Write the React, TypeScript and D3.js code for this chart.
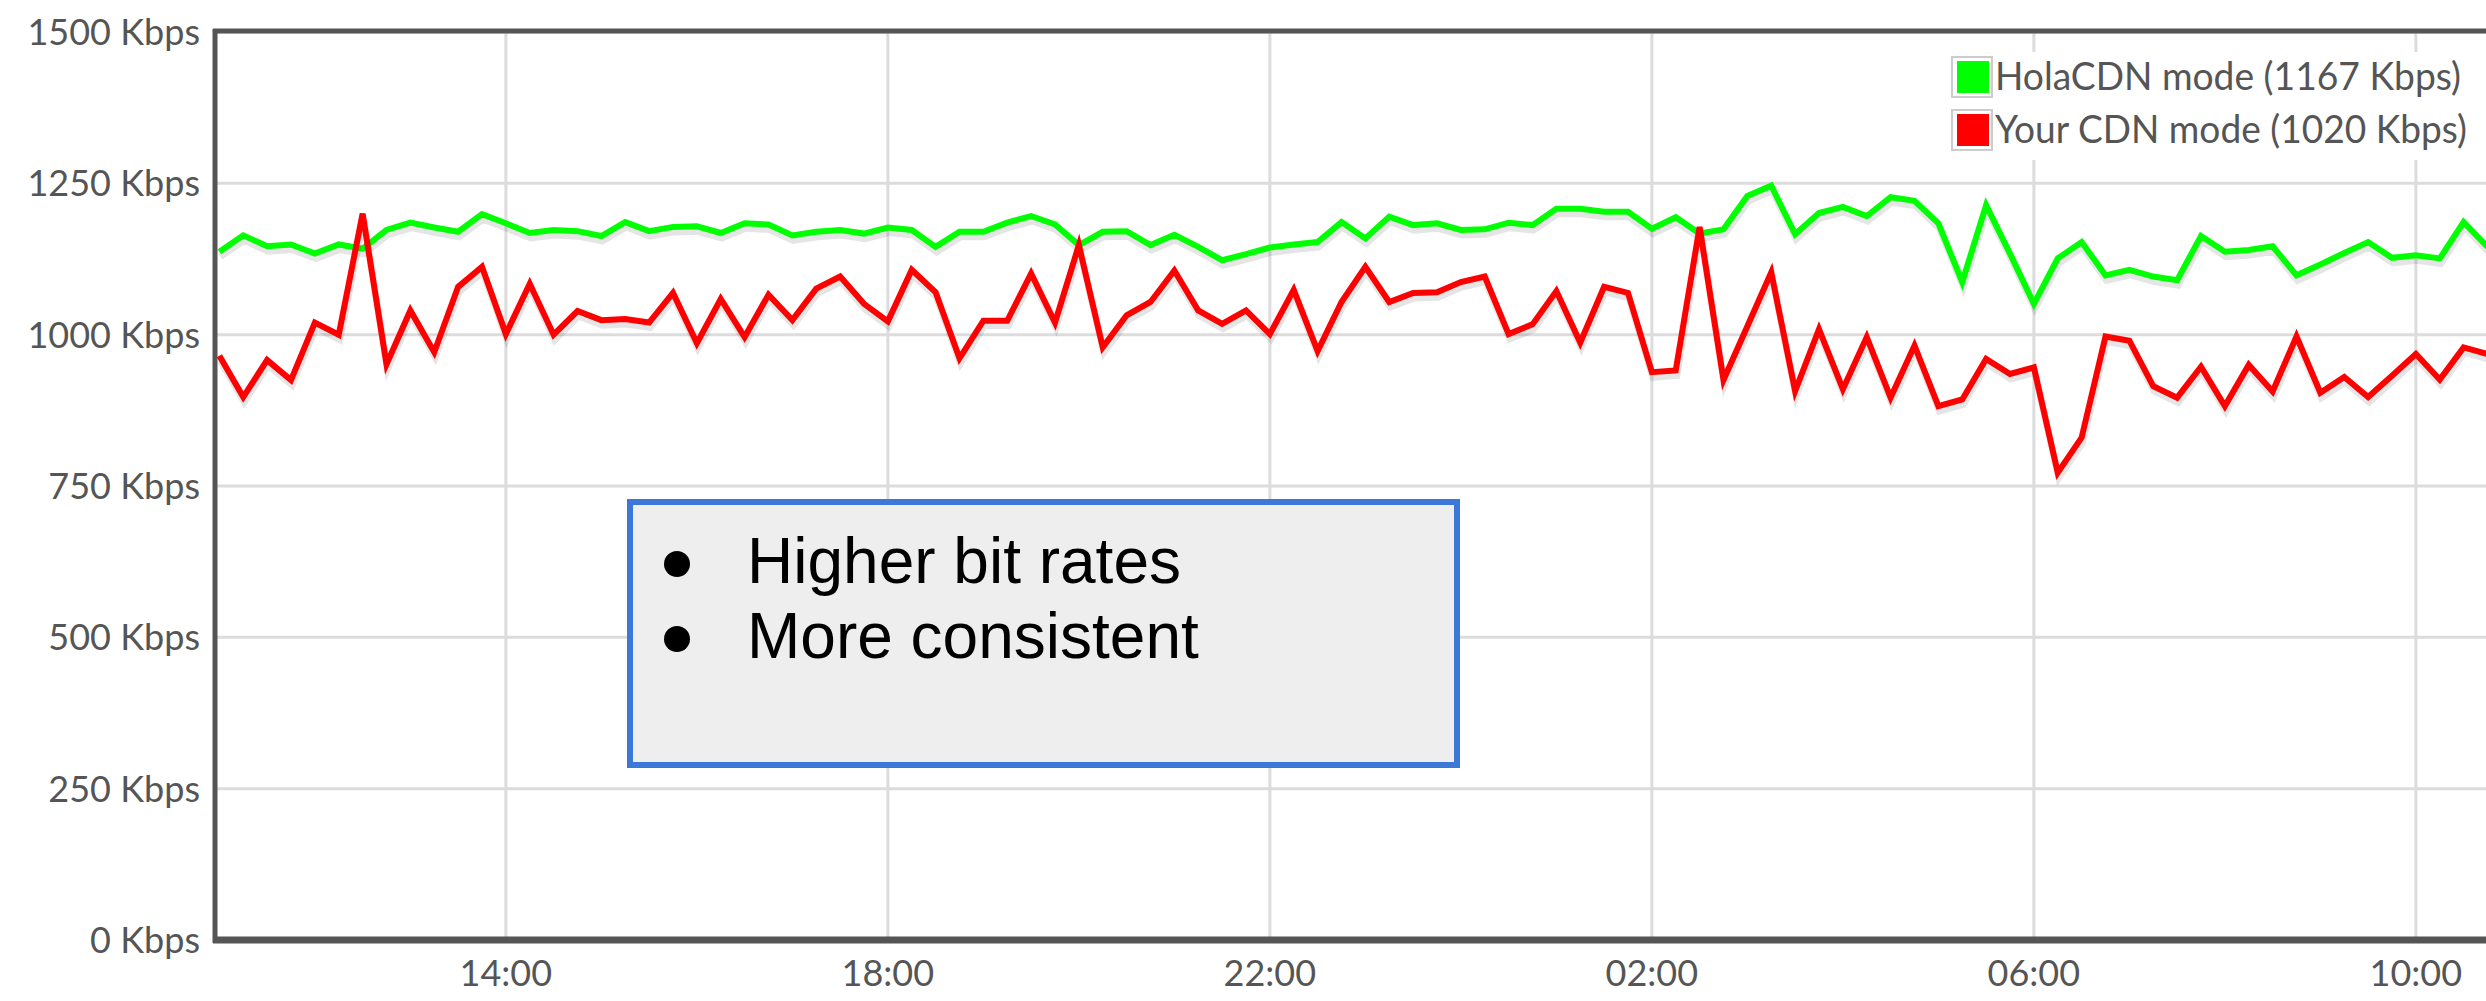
import * as d3 from "d3";

// samples every 15 minutes, starting 11:00
const START = new Date(2024, 0, 1, 11, 0);
const STEP_MIN = 15;

const holaCdn = [
  1137, 1164, 1146, 1149, 1134, 1149, 1142, 1173, 1185, 1177,
  1170, 1199, 1184, 1168, 1173, 1171, 1163, 1186, 1171, 1178,
  1179, 1168, 1184, 1182, 1164, 1170, 1173, 1167, 1177, 1173,
  1145, 1170, 1170, 1185, 1196, 1182, 1148, 1170, 1171, 1148,
  1165, 1145, 1123, 1133, 1144, 1149, 1153, 1186, 1159, 1195,
  1181, 1184, 1173, 1174, 1185, 1181, 1208, 1208, 1203, 1203,
  1175, 1194, 1167, 1174, 1229, 1246, 1166, 1201, 1211, 1196,
  1227, 1221, 1184, 1087, 1214, 1134, 1051, 1126, 1153, 1098,
  1107, 1096, 1090, 1163, 1137, 1140, 1146, 1098, 1116, 1135,
  1153, 1127, 1131, 1126, 1186, 1145,
];

const yourCdn = [
  965, 897, 958, 925, 1020, 1000, 1200, 951, 1040, 971,
  1079, 1112, 1001, 1084, 1000, 1039, 1024, 1026, 1020, 1069,
  986, 1059, 996, 1066, 1024, 1076, 1096, 1051, 1022, 1107,
  1070, 961, 1023, 1023, 1101, 1020, 1148, 979, 1032, 1054,
  1106, 1040, 1018, 1040, 1001, 1074, 973, 1054, 1112, 1054,
  1069, 1070, 1087, 1096, 1001, 1017, 1072, 987, 1079, 1069,
  938, 941, 1178, 925, 1014, 1103, 907, 1009, 910, 996,
  896, 982, 882, 893, 960, 935, 946, 772, 830, 997,
  990, 915, 896, 947, 882, 950, 906, 997, 904, 930,
  897, 932, 968, 926, 979, 968,
];

const yTicks = [0, 250, 500, 750, 1000, 1250, 1500];

const seriesNames = ["HolaCDN mode (1167 Kbps)", "Your CDN mode (1020 Kbps)"];
const seriesColors = ["#00ff00", "#ff0000"];
const legendWidths = [466, 472];

const calloutLines = ["Higher bit rates", "More consistent"];

const W = 2486;
const H = 1001;
const margin = { left: 213, top: 32, bottom: 940, right: 2505 };

export default function App() {
  const x = d3
    .scaleTime()
    .domain([new Date(2024, 0, 1, 10, 56), new Date(2024, 0, 2, 10, 56)])
    .range([margin.left, margin.right]);

  const y = d3.scaleLinear().domain([0, 1500]).range([margin.bottom, margin.top]);

  const times = holaCdn.map((_, i) => d3.timeMinute.offset(START, i * STEP_MIN));

  const xTicks = d3
    .timeHour.range(x.domain()[0], x.domain()[1])
    .filter(d => d.getHours() % 4 === 2);
  const fmt = d3.timeFormat("%H:%M");

  const line = d3
    .line<number>()
    .x((_, i) => x(times[i]))
    .y(d => y(d));

  const series = [holaCdn, yourCdn];

  const labelFont = "Lato, 'Open Sans', sans-serif";

  return (
    <svg
      width={W}
      height={H}
      style={{ position: "absolute", left: 0, top: 0, display: "block", background: "#fff" }}
    >
      {/* gridlines */}
      <g stroke="#dcdcdc" strokeWidth={3}>
        {yTicks.map(t => (
          <line key={"gy" + t} x1={margin.left} x2={margin.right} y1={y(t)} y2={y(t)} />
        ))}
        {xTicks.map(t => (
          <line key={"gx" + t.getTime()} x1={x(t)} x2={x(t)} y1={margin.top} y2={margin.bottom} />
        ))}
      </g>

      {/* series */}
      {series.map((s, i) => (
        <g key={"s" + i}>
          <path
            d={line(s) ?? ""}
            fill="none"
            stroke="rgba(0,0,0,0.10)"
            strokeWidth={7}
            transform="translate(1,5)"
          />
          <path d={line(s) ?? ""} fill="none" stroke={seriesColors[i]} strokeWidth={6} />
        </g>
      ))}

      {/* frame */}
      <line x1={margin.left} x2={margin.right} y1={margin.top - 1} y2={margin.top - 1} stroke="#555" strokeWidth={5} />
      <line x1={margin.left + 2} x2={margin.left + 2} y1={margin.top - 3} y2={margin.bottom + 3} stroke="#555" strokeWidth={5} />
      <line x1={margin.left} x2={margin.right} y1={margin.bottom} y2={margin.bottom} stroke="#555" strokeWidth={7} />

      {/* y labels */}
      <g fontFamily={labelFont} fontSize={36} fill="#555" textAnchor="end">
        {yTicks.map(t => (
          <text key={"ly" + t} x={200} y={y(t) + 13}>
            {t} Kbps
          </text>
        ))}
      </g>

      {/* x labels */}
      <g fontFamily={labelFont} fontSize={36} fill="#555" textAnchor="middle">
        {xTicks.map(t => (
          <text key={"lx" + t.getTime()} x={x(t)} y={986}>
            {fmt(t)}
          </text>
        ))}
      </g>

      {/* legend */}
      <rect x={1945} y={52} width={535} height={108} fill="#fff" />
      {seriesNames.map((name, i) => (
        <g key={"lg" + i} transform={`translate(0,${i * 53})`}>
          <rect x={1952} y={57} width={40} height={40} fill="#fff" stroke="#ccc" strokeWidth={2} />
          <rect x={1957} y={61} width={32} height={32} fill={seriesColors[i]} />
          <text
            x={1995}
            y={90}
            fontFamily={labelFont}
            fontSize={38}
            fill="#555"
            textLength={legendWidths[i]}
            lengthAdjust="spacingAndGlyphs"
          >
            {name}
          </text>
        </g>
      ))}

      {/* callout */}
      <rect x={630} y={502} width={827} height={263} fill="#eeeeee" stroke="#3c78d8" strokeWidth={6} />
      {calloutLines.map((t, i) => (
        <g key={"c" + i}>
          <circle cx={677} cy={564 + i * 75} r={13} fill="#000" />
          <text x={747} y={583 + i * 75} fontFamily="'Liberation Sans', Arial, sans-serif" fontSize={64} fill="#000">
            {t}
          </text>
        </g>
      ))}
    </svg>
  );
}
